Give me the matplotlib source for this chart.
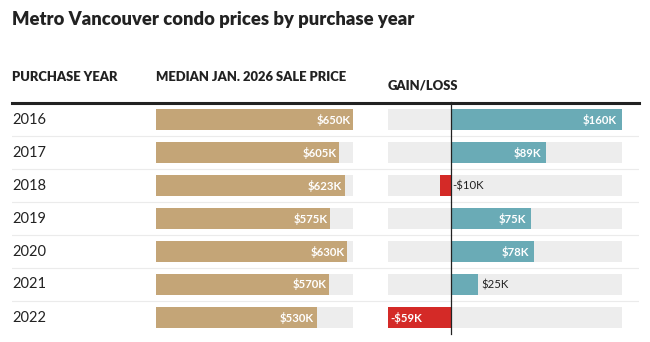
import matplotlib.pyplot as plt

plt.rcParams['font.family'] = ['Lato', 'DejaVu Sans']

years = ['2016', '2017', '2018', '2019', '2020', '2021', '2022']
prices = [650, 605, 623, 575, 630, 570, 530]     # $K, median Jan. 2026 sale price
changes = [160, 89, -10, 75, 78, 25, -59]          # $K, gain/loss

TAN = '#c4a577'
TEAL = '#6aabb6'
RED = '#d42a27'
TRACK = '#ededed'
W, H = 650, 342


def fx(px):
    return px / W


def fy(py):
    return 1 - py / H


fig = plt.figure(figsize=(6.5, 3.42), dpi=100)
n = len(years)
top, bottom = 103, 334
ax_h = (bottom - top) / H

# background axes for row lines
bg = fig.add_axes([fx(12), fy(bottom), fx(639 - 12), ax_h])
bg.set_xlim(0, 1)
bg.set_ylim(n - 0.5, -0.5)
bg.axis('off')
for i in range(n - 1):
    bg.axhline(i + 0.5, color='#ebebeb', lw=0.8)
bg.axhline(-0.5, color='#222222', lw=2.2, clip_on=False)

for i, y in enumerate(years):
    bg.text(0, i, y, ha='left', va='center', fontsize=10.5, color='#222222')

# price bars
ax1 = fig.add_axes([fx(156), fy(bottom), fx(353 - 156), ax_h])
ax1.set_xlim(0, max(prices))
ax1.set_ylim(n - 0.5, -0.5)
ax1.axis('off')
ax1.barh(range(n), [max(prices)] * n, height=0.64, color=TRACK)
ax1.barh(range(n), prices, height=0.64, color=TAN)
for i, p in enumerate(prices):
    ax1.text(p - 8, i, f'${p}K', ha='right', va='center', fontsize=8.2,
             fontweight='bold', color='white')

# gain/loss bars
ax2 = fig.add_axes([fx(388), fy(bottom), fx(622 - 388), ax_h])
ax2.set_xlim(min(changes), max(changes))
ax2.set_ylim(n - 0.5, -0.5)
ax2.axis('off')
ax2.barh(range(n), [max(changes) - min(changes)] * n, left=min(changes),
         height=0.64, color=TRACK)
ax2.barh(range(n), changes, height=0.64,
         color=[TEAL if c >= 0 else RED for c in changes])
ax2.axvline(0, ymin=0, ymax=1.005, color='#222222', lw=0.9, clip_on=False)
for i, c in enumerate(changes):
    lab = f'${c}K' if c >= 0 else f'-${-c}K'
    if c >= 50:
        ax2.text(c - 5, i, lab, ha='right', va='center', fontsize=8.2,
                 fontweight='bold', color='white')
    elif c >= 0:
        ax2.text(c + 3, i, lab, ha='left', va='center', fontsize=8.2,
                 color='#222222')
    elif c > -30:
        ax2.text(1.5, i, lab, ha='left', va='center', fontsize=8.2,
                 color='#222222')
    else:
        ax2.text(c + 2, i, lab, ha='left', va='center', fontsize=8.2,
                 fontweight='bold', color='white')

# titles and headers
fig.text(fx(12), fy(20), 'Metro Vancouver condo prices by purchase year',
         ha='left', va='center', fontsize=13.2, fontweight='heavy', color='#222222')
fig.text(fx(12), fy(77), 'PURCHASE YEAR', ha='left', va='center',
         fontsize=9.4, fontweight='heavy', color='#222222')
fig.text(fx(156), fy(77), 'MEDIAN JAN. 2026 SALE PRICE', ha='left', va='center',
         fontsize=9.4, fontweight='heavy', color='#222222')
fig.text(fx(388), fy(86), 'GAIN/LOSS', ha='left', va='center',
         fontsize=9.4, fontweight='heavy', color='#222222')

fig.savefig('out.png', dpi=100, facecolor='white')
